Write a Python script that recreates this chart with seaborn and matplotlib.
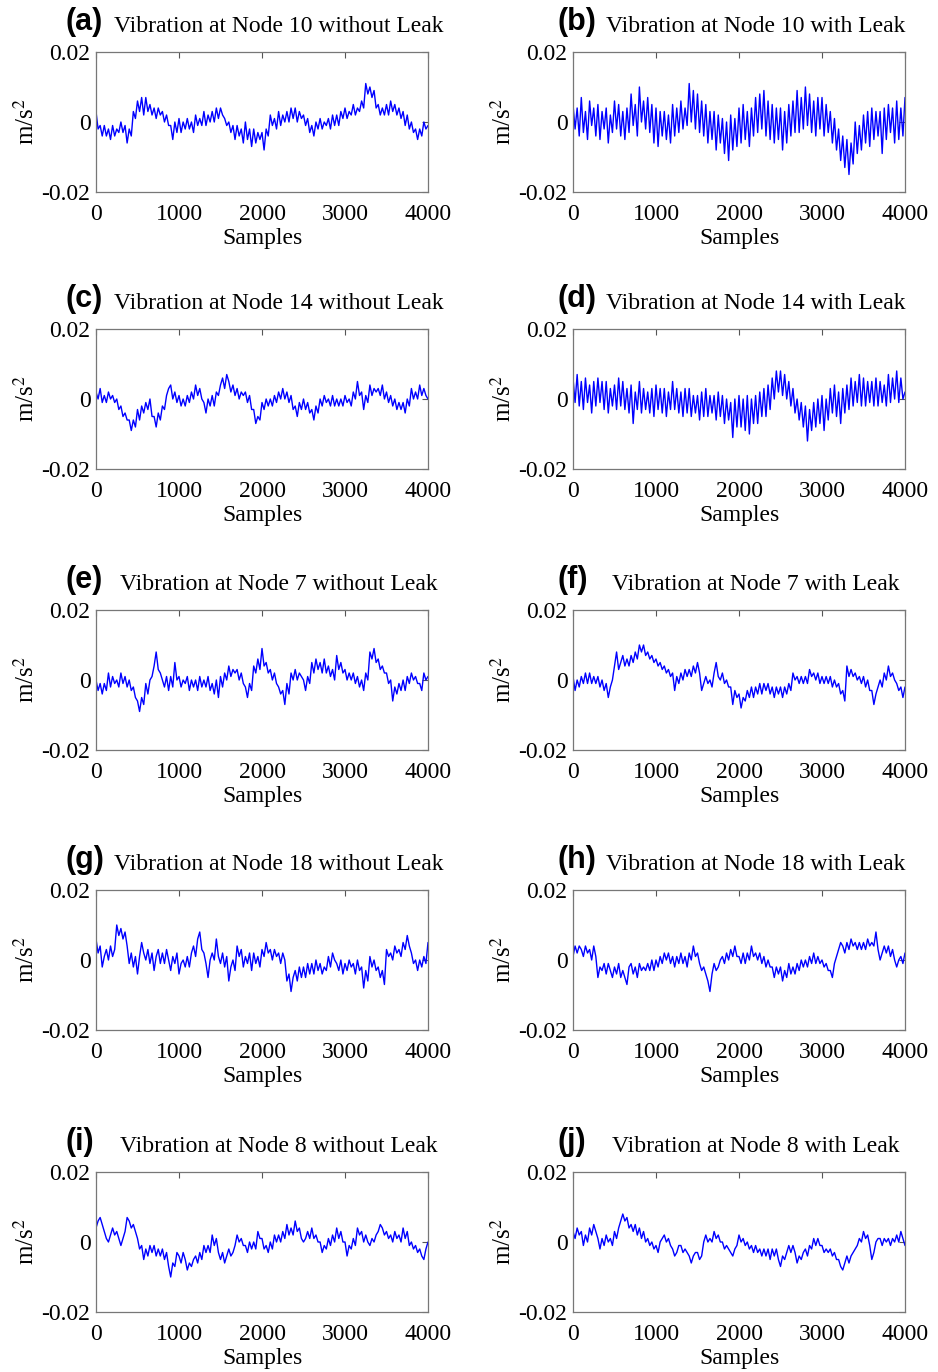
import numpy as np
import pandas as pd
import matplotlib
matplotlib.use("Agg")
import matplotlib.pyplot as plt
import seaborn as sns

# Sample positions (every 25 samples) and readings in units of 1e-3 m/s^2
samples = list(range(0, 4001, 25))

node10_no_leak = [3, -2, -1, -4, -1, -4, -2, -5, -1, -4, -2, -3, 0, -3, -1, -6,
                  -2, -4, 3, 1, 6, 3, 7, 2, 7, 3, 5, 2, 4, 1, 4, 2,
                  3, 0, 2, -1, -1, -5, 0, -3, 1, -3, 0, -2, 1, -2, 0, -3,
                  2, -1, 1, -1, 3, -1, 2, 0, 3, 0, 4, 1, 4, 2, 1, -1,
                  0, -3, -1, -5, -1, -4, -2, -6, 0, -5, -2, -7, -2, -6, -3, -5,
                  -3, -8, -2, -4, 2, -1, 1, -2, 3, -1, 2, 0, 3, 0, 4, 1,
                  4, 0, 3, 1, 2, -1, 1, -3, -1, -4, 0, -2, 1, -2, 0, -1,
                  1, -2, 2, -1, 2, -1, 3, 1, 4, 1, 3, 2, 5, 2, 4, 3,
                  6, 4, 11, 8, 10, 7, 9, 4, 5, 2, 4, 2, 5, 2, 6, 3,
                  5, 2, 4, 1, 3, -1, 2, -2, 0, -3, -2, -5, -2, -4, 0, -2, -1]
node10_leak = [5, -2, 4, -4, 7, -3, 3, -5, 6, -1, 4, -4, 5, -5, 3, -2,
               4, -6, 2, -3, 6, -2, 5, -4, 3, -5, 4, -3, 8, -1, 5, -4,
               10, 0, 6, -2, 7, -3, 5, -6, 4, -7, 3, -4, 3, -5, 2, -6,
               5, -4, 4, -3, 6, -2, 4, -1, 11, 0, 9, -2, 8, -3, 6, -4,
               5, -6, 3, -5, 3, -8, 2, -6, 1, -9, 0, -11, 2, -8, 1, -7,
               4, -6, 5, -5, 3, -7, 4, -4, 7, -3, 8, -2, 9, -4, 6, -5,
               5, -6, 4, -5, 4, -8, 3, -6, 5, -4, 6, -3, 9, -3, 7, -2,
               10, -1, 8, -3, 6, -4, 7, -2, 7, -4, 5, -3, 3, -6, 1, -8,
               -2, -11, -4, -13, -5, -15, -6, -12, 0, -9, -1, -8, 2, -6, 3, -7,
               4, -5, 3, -4, 3, -9, 4, -5, 5, -3, 4, -6, 6, -5, 4, -4, 7]
node14_no_leak = [2, 0, 3, -1, 1, -1, 2, 0, 1, -1, 0, -3, -2, -5, -4, -6,
                  -6, -9, -6, -8, -3, -6, -2, -4, -1, -3, 0, -5, -5, -8, -4, -6,
                  -2, -3, 1, 3, 4, 0, 2, -1, 1, -2, 0, -2, 1, -1, 2, 0,
                  4, 1, 3, 0, -1, -4, 0, -2, 1, -2, 2, 1, 4, 6, 3, 7,
                  5, 2, 4, 1, 3, 0, 2, 1, 2, -1, 1, -3, -3, -7, -5, -6,
                  -1, -3, 0, -2, 0, -2, 1, -1, 2, 0, 3, 0, 2, -1, 1, -3,
                  -2, -5, -1, -3, 0, -3, -1, -4, -3, -6, -2, -4, 0, -2, 1, -1,
                  0, -2, 1, -2, 0, -2, 0, -2, 1, -1, 0, -2, 2, 0, 5, 1,
                  2, -3, 1, -1, 4, 1, 3, 2, 3, 1, 4, 0, 2, -1, 1, -2,
                  0, -3, -1, -3, -1, -4, 0, -2, 3, 0, 2, 0, 4, 1, 3, 1, 0]
node14_leak = [6, -1, 7, -2, 5, -3, 6, -1, 4, -4, 5, -2, 6, -1, 5, -3,
               5, -4, 3, -2, 4, -3, 6, -2, 5, -3, 3, -4, 4, -7, 2, -3,
               5, -4, 3, -3, 2, -4, 3, -5, 4, -3, 3, -4, 3, -5, 2, -3,
               5, -3, 3, -4, 2, -5, 3, -4, 3, -5, 1, -4, 1, -6, 2, -5,
               3, -5, 1, -4, 1, -6, 2, -5, 1, -7, 0, -6, -1, -11, 0, -8,
               1, -8, 0, -9, 1, -10, 0, -7, 1, -7, 2, -5, 3, -5, 4, -3,
               6, 0, 8, 2, 8, 1, 7, 0, 5, -2, 3, -4, 0, -6, -1, -8,
               -2, -12, -3, -9, -1, -8, 0, -7, 1, -9, 0, -6, 3, -4, 4, -5,
               2, -7, 3, -4, 4, -3, 6, -2, 5, -1, 7, -2, 6, -2, 5, -1,
               5, -2, 6, -2, 5, -1, 4, -2, 7, -1, 6, 0, 8, -1, 6, 0, 2]
node7_no_leak = [0, -3, -1, -4, -1, -3, 2, -2, 1, -1, 0, -2, 2, -1, 1, -2,
                 0, -3, -2, -5, -6, -9, -5, -7, -1, -4, 0, 1, 4, 8, 3, 2,
                 0, -2, 1, -3, 1, -2, 5, 0, 1, -2, 0, -1, 1, -3, 0, -2,
                 0, -3, 1, -2, 0, -2, 1, -3, -1, -4, 0, -5, 1, -2, 2, 0,
                 4, 1, 3, 2, 3, 0, 2, -1, -2, -5, -1, -3, 4, 2, 6, 3,
                 9, 4, 5, 2, 3, 0, 2, -1, -2, -4, -3, -7, -1, -4, 2, 0,
                 3, 0, 2, 1, 0, -3, 1, -1, 5, 2, 6, 3, 5, 2, 6, 2,
                 4, 1, 3, 0, 7, 3, 5, 2, 3, 0, 2, 0, 2, -1, 1, -2,
                 0, -3, 2, 0, 8, 6, 9, 5, 6, 3, 4, 2, 2, -1, 0, -6,
                 -2, -4, -1, -3, 0, -3, 1, -1, 2, 0, 1, -1, -1, -3, 2, 0, 1]
node7_leak = [1, -3, 0, -2, 1, -1, 2, -1, 2, -1, 1, -1, 1, -2, 0, -3,
              -1, -5, -2, 0, 4, 8, 3, 5, 7, 4, 6, 4, 7, 5, 8, 6,
              10, 8, 10, 7, 8, 6, 7, 5, 6, 4, 5, 3, 4, 2, 3, 1,
              2, -3, 1, -1, 2, 0, 3, 1, 3, 1, 4, 2, 5, 2, -3, -1,
              1, -1, 0, -2, 2, 5, 1, 0, 2, -1, 0, -2, -2, -7, -3, -5,
              -4, -8, -5, -6, -3, -5, -2, -5, -2, -4, -1, -4, -1, -3, -1, -4,
              -2, -5, -2, -4, -2, -5, -2, -4, -1, -3, 2, 0, 1, -1, 1, -1,
              1, -1, 3, 1, 2, 0, 2, -1, 1, -1, 1, -1, 1, -2, 0, -2,
              -1, -4, -3, -6, 4, 1, 3, 1, 2, 0, 1, -1, 1, -2, 0, -3,
              -3, -7, -4, -2, 0, -2, 2, 0, 4, 1, 2, 0, -1, -3, -2, -5, -2]
node18_no_leak = [6, 2, 4, -2, 1, 3, 0, 4, 1, 3, 10, 7, 9, 6, 8, 4,
                  -1, 2, -2, 1, -4, 1, 5, 2, 0, 3, -1, 2, -3, 1, 3, -1,
                  2, -1, 3, 0, -3, 1, -1, 2, -4, -1, 0, -2, 1, -2, 2, 4,
                  1, 6, 8, 3, 2, -1, -5, 0, 2, 0, 6, 1, -1, 2, -2, 1,
                  -6, -2, 0, -3, 4, 1, 3, -2, 1, -1, 2, -3, 2, -1, 1, -2,
                  3, 1, 5, 2, 3, 0, 3, 1, 2, -1, 2, 0, -6, -4, -9, -5,
                  -3, -6, -2, -5, -2, -5, -1, -4, -1, -4, 0, -3, -1, -4, -2, -3,
                  1, -2, 2, 0, -1, -3, 0, -4, -1, -3, 0, -2, -1, -4, 0, -3,
                  -2, -8, -3, -6, 1, -2, 0, -3, -2, -5, -3, -7, 3, 1, 2, 0,
                  4, 2, 3, 1, 5, 3, 7, 4, 2, -1, 0, -3, 0, -2, 1, -1, 5]
node18_leak = [1, 4, 2, 4, 3, 1, 4, 2, 3, 0, 4, 1, -5, -2, -3, -1,
               -4, -1, -3, -5, -2, -4, -1, -5, -3, -5, -7, -2, -1, -4, -2, -5,
               -1, -3, -2, -3, -1, -3, 0, -3, 0, -2, 1, -1, 2, 0, 2, -1,
               1, -2, 1, -1, 2, -1, 1, -2, 2, 0, 4, 1, 2, -1, -3, -2,
               -4, -6, -9, -4, -1, -3, -2, 0, 1, -1, 2, 0, 3, 1, 4, 1,
               1, -1, 2, -1, 2, 0, 4, 1, 2, 0, 2, -1, 1, -2, 0, -2,
               -2, -5, -2, -4, -2, -6, -3, -5, -1, -4, -2, -4, -1, -3, 0, -2,
               0, -2, 1, -1, 2, -1, 1, -1, 0, -2, -1, -3, -3, -5, -1, 1,
               3, 5, 4, 2, 5, 3, 6, 4, 5, 3, 5, 3, 5, 3, 6, 4,
               5, 4, 8, 3, 0, 2, 4, 2, 4, 1, 3, 0, -2, 0, 1, -1, 2]
node8_no_leak = [4, 6, 7, 5, 3, 1, 0, 2, 4, 2, 3, 1, -1, 1, 3, 7,
                 6, 4, 5, 3, 1, -2, -1, -5, -2, -4, -1, -3, -1, -4, -2, -4,
                 -2, -5, -3, -7, -10, -6, -7, -3, -4, -6, -3, -5, -8, -6, -7, -5,
                 -4, -6, -3, -5, -1, -3, -1, -3, 2, -1, 1, -3, -5, -3, -6, -4,
                 -2, -4, -3, -1, 2, 0, 1, -1, -1, -3, 0, -2, 0, -2, 3, 1,
                 1, -2, -1, -3, 0, -2, 2, 0, 2, 0, 3, 1, 5, 2, 4, 2,
                 6, 3, 4, 1, 0, 1, 3, 1, 4, 1, 2, 0, 0, -3, -1, -2,
                 1, -1, 2, 0, 4, 1, 3, 0, 0, -4, -1, -2, 1, -1, 4, 2,
                 3, 0, 2, 0, -1, 1, 0, 2, 3, 5, 4, 2, 3, 1, 2, 0,
                 3, 1, 2, 0, 4, 1, 3, -1, 0, -2, -1, -3, -2, -4, -5, -2, 0]
node8_leak = [3, 1, 4, 2, 3, -1, 2, 0, 4, 2, 5, 3, 1, -2, 1, -1,
              2, 0, 1, -1, 3, 1, 4, 6, 8, 6, 7, 4, 5, 3, 5, 2,
              4, 1, 3, 0, 1, -1, 0, -2, -1, -3, 0, 1, 2, 0, 1, -1,
              -2, -4, -3, -1, -1, -3, -2, -3, -4, -6, -4, -3, -3, -5, -4, 0,
              2, 0, 1, 0, 3, 1, 2, 0, 0, -2, -1, -2, -3, -4, -2, -1,
              2, 0, 1, -1, 0, -2, -1, -3, -1, -3, -2, -4, -2, -4, -2, -5,
              -2, -4, -2, -5, -7, -4, -5, -3, -1, -3, -1, -3, -6, -4, -5, -3,
              -2, -4, -1, -2, 1, -1, 1, -1, -1, -3, -2, -3, -2, -4, -3, -5,
              -5, -7, -8, -6, -4, -6, -4, -3, -2, -1, 1, 0, 3, 1, 2, -1,
              -5, -3, 0, 1, 1, -1, 1, 0, 1, -1, 1, 0, 2, 0, 3, 1, -1]

panel_labels = ["(a)", "(b)", "(c)", "(d)", "(e)", "(f)", "(g)", "(h)", "(i)", "(j)"]
panel_titles = [
    "Vibration at Node 10 without Leak", "Vibration at Node 10 with Leak",
    "Vibration at Node 14 without Leak", "Vibration at Node 14 with Leak",
    "Vibration at Node 7 without Leak", "Vibration at Node 7 with Leak",
    "Vibration at Node 18 without Leak", "Vibration at Node 18 with Leak",
    "Vibration at Node 8 without Leak", "Vibration at Node 8 with Leak",
]
panel_series = [node10_no_leak, node10_leak, node14_no_leak, node14_leak,
                node7_no_leak, node7_leak, node18_no_leak, node18_leak,
                node8_no_leak, node8_leak]

x_ticks = [0, 1000, 2000, 3000, 4000]
y_ticks = [-0.02, 0, 0.02]
y_tick_labels = ["-0.02", "0", "0.02"]


def main():
    sns.set_style("white")
    plt.rcParams["font.family"] = ["Liberation Serif", "DejaVu Serif"]
    plt.rcParams["mathtext.fontset"] = "stix"
    plt.rcParams["text.color"] = "black"
    plt.rcParams["axes.labelcolor"] = "black"

    W, H = 938, 1372
    fig = plt.figure(figsize=(W / 100, H / 100), dpi=100)

    # axes boxes in pixels
    col_left = [96, 573]
    label_x = [-0.093, -0.048]   # panel letter offset per column
    row_top = [52, 329, 610, 890, 1172]
    ax_w, ax_h = 332, 140

    for k in range(10):
        row, col = k // 2, k % 2
        left = col_left[col] / W
        bottom = 1 - (row_top[row] + ax_h) / H
        ax = fig.add_axes([left, bottom, ax_w / W, ax_h / H])

        df = pd.DataFrame({"Samples": samples,
                           "value": np.array(panel_series[k]) * 1e-3})
        sns.lineplot(data=df, x="Samples", y="value", ax=ax,
                     color="#0000FF", linewidth=1.0)

        ax.set_xlim(0, 4000)
        ax.set_ylim(-0.02, 0.02)
        ax.set_xticks(x_ticks)
        ax.set_xticklabels([str(t) for t in x_ticks])
        ax.set_yticks(y_ticks)
        ax.set_yticklabels(y_tick_labels)
        ax.tick_params(direction="in", length=4, width=0.8, color="#555555",
                       labelcolor="black", top=True, right=True, labelsize=17)
        ax.tick_params(axis="x", pad=8.5)
        ax.tick_params(axis="y", pad=4)
        for s in ax.spines.values():
            s.set_color("#777777")
            s.set_linewidth(0.9)
        ax.set_xlabel("Samples", fontsize=17, labelpad=2.5)
        ax.set_ylabel("m/s$^2$", fontsize=18, labelpad=2)

        ax.text(label_x[col], 1.215, panel_labels[k], transform=ax.transAxes,
                family=["Liberation Sans", "DejaVu Sans"], fontweight="bold",
                fontsize=22, ha="left", va="center")
        ax.text(0.55, 1.185, panel_titles[k], transform=ax.transAxes,
                fontsize=17, ha="center", va="center")

    fig.savefig("out.png", dpi=100)


if __name__ == "__main__":
    main()
